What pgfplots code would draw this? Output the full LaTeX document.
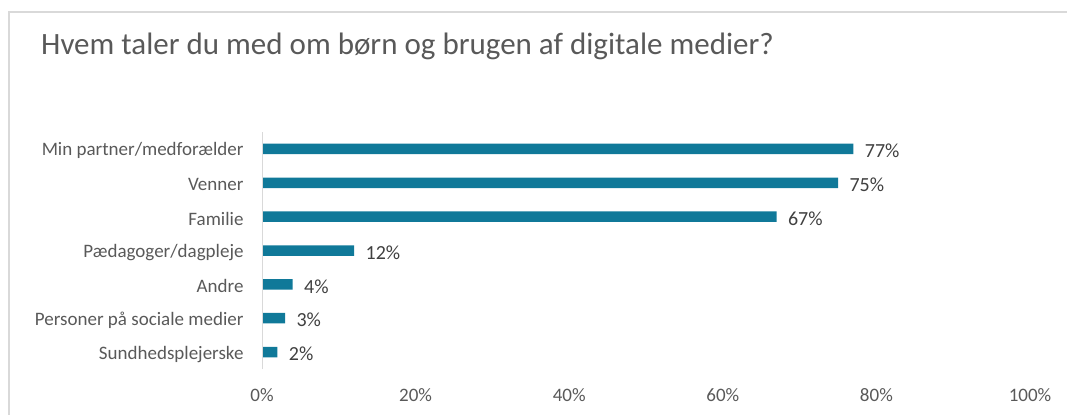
\documentclass[border=0pt]{standalone}
\usepackage{fontspec}
\setmainfont{Carlito}
\usepackage{pgfplots}
\pgfplotsset{compat=1.18}
\definecolor{barblue}{RGB}{16,121,153}
\definecolor{txtgray}{RGB}{89,89,89}
\definecolor{lblgray}{RGB}{64,64,64}
\definecolor{framegray}{RGB}{217,217,217}

\begin{document}
\begin{tikzpicture}[x=1bp,y=1bp]
\useasboundingbox (0,0) rectangle (1067,414);
% outer frame (only top and left edges fall inside the picture)
\draw[framegray, line width=1.2bp] (9,-5) -- (9,402) -- (1075,402);
\node[anchor=west, text=txtgray, font=\fontsize{31bp}{34bp}\selectfont, inner sep=0pt] at (41,368) {Hvem taler du med om børn og brugen af digitale medier?};
\begin{axis}[
    at={(262bp,45bp)}, anchor=south west,
    scale only axis,
    width=768bp, height=237bp,
    xbar, bar width=10.5bp,
    xmin=0, xmax=100,
    ymin=-0.5, ymax=6.5,
    ytick={0,...,6},
    yticklabels={Sundhedsplejerske,Personer på sociale medier,Andre,Pædagoger/dagpleje,Familie,Venner,Min partner/medforælder},
    axis line style={draw=none},
    axis y line*=left,
    axis x line=none,
    major tick length=0pt,
    tick style={draw=none},
    ticklabel style={text=txtgray, font=\fontsize{19bp}{21bp}\selectfont},
    yticklabel style={xshift=-15bp, yshift=-2bp},
    clip=false,
    nodes near coords={\pgfmathprintnumber{\pgfplotspointmeta}\%},
    nodes near coords style={anchor=west, xshift=8bp, yshift=-2bp, text=lblgray, font=\fontsize{20bp}{22bp}\selectfont},
    every node near coord/.append style={/pgf/number format/assume math mode=true},
]
\addplot[fill=barblue, draw=none] coordinates {(2,0) (3,1) (4,2) (12,3) (67,4) (75,5) (77,6)};
\draw[framegray, line width=1bp] (axis cs:0,-0.5) -- (axis cs:0,6.5);
\end{axis}
\foreach \v in {0,20,40,60,80,100}
  \node[text=txtgray, font=\fontsize{19bp}{21bp}\selectfont] at ({262+7.68*\v},19) {\v\%};
\end{tikzpicture}
\end{document}
